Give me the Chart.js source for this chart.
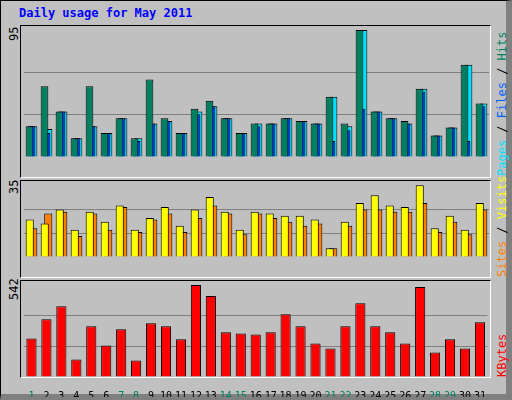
<!DOCTYPE html>
<html><head><meta charset="utf-8">
<script src="https://cdn.jsdelivr.net/npm/chart.js@4"></script>
<style>
body{margin:0;width:512px;height:400px;background:#c0c0c0;overflow:hidden;font-family:"DejaVu Sans Mono",monospace}
#frame{position:absolute;left:0;top:0;width:505px;height:393px;border:1px solid #000;border-right:6px solid #808080;border-bottom:6px solid #808080;box-sizing:content-box}
.panel{position:absolute;left:20px;width:469px;border-top:1px solid #000;border-left:1px solid #000;border-right:1px solid #fff;border-bottom:1px solid #fff}
.rot{position:absolute;transform:rotate(-90deg);transform-origin:left top;white-space:nowrap;font-size:12px}
#title{position:absolute;left:19px;top:6px;color:#0000ff;font-weight:bold;font-size:12px}
</style></head><body>
<div id="frame"></div>
<div id="title">Daily usage for May 2011</div>
<div class="panel" style="top:25px;height:151px"></div>
<div class="panel" style="top:180px;height:96px"></div>
<div class="panel" style="top:280px;height:96px"></div>
<div class="rot" style="left:7px;top:41px">95</div>
<div class="rot" style="left:7px;top:194px">35</div>
<div class="rot" style="left:7px;top:300px">542</div>
<div class="rot" style="left:495px;top:176px"><span style="color:#00e0ff">Pages</span> / <span style="color:#0060ff">Files</span> / <span style="color:#008060">Hits</span></div>
<div class="rot" style="left:495px;top:277px"><span style="color:#ff8000">Sites</span> / <span style="color:#ffff00">Visits</span></div>
<div class="rot" style="left:495px;top:377px"><span style="color:#ff0000">KBytes</span></div>
<div style="position:absolute;left:21px;top:26px;width:470px;height:151px"><canvas id="c1"></canvas></div>
<div style="position:absolute;left:21px;top:181px;width:470px;height:96px"><canvas id="c2"></canvas></div>
<div style="position:absolute;left:21px;top:281px;width:470px;height:116px"><canvas id="c3"></canvas></div>
<script>
const days = Array.from({length:31},(_,i)=>String(i+1));
const weekend = [1,7,8,14,15,21,22,28,29];
const hits  = [23,53,34,14,53,18,29,14,58,29,18,36,42,29,18,25,25,29,27,25,45,25,95,34,29,27,51,16,22,69,40];
const files = [23,18,34,14,23,18,29,12,25,27,18,32,38,29,18,23,25,29,27,25,12,20,36,34,29,25,49,16,22,12,38];
const pages = [23,21,34,14,23,18,29,14,25,27,18,34,38,29,18,25,25,29,27,25,45,23,95,34,29,25,51,16,22,69,40];
const visits = [18.2,16.3,23.1,13.3,22,17.1,25,13.3,19,24.3,15.2,23.1,29.2,22,13.3,22,21.2,20.1,20.1,18.2,4.2,17.1,26.2,30,25,24.3,34.9,14,20.1,13.3,26.2];
const sites  = [14,21.2,22,10.2,21.2,13.3,24.3,12.1,18.2,21.2,12.1,19,25,21.2,11,21.2,19,17.1,15.2,16.3,4.2,15.2,23.1,23.1,22,22,26.2,12.1,17.1,11,23.1];
const kbytes = [227,340,417,103,299,186,281,97,316,299,222,542,477,263,257,251,263,370,299,198,168,299,435,299,263,198,530,144,222,168,322];

Chart.defaults.devicePixelRatio = 1;
Chart.defaults.animation = false;
Chart.defaults.font.family = '"DejaVu Sans Mono", monospace';

function panel(id, datasets, max, cat, bar, showX){
  new Chart(document.getElementById(id), {
    type:'bar',
    data:{labels:days, datasets:datasets.map(d=>({
      data:d.data, backgroundColor:d.color, borderColor:'#000', borderWidth:1,
      borderSkipped:'bottom', categoryPercentage:cat, barPercentage:bar
    }))},
    options:{
      responsive:true, maintainAspectRatio:false,
      layout:{padding:{left:3,right:2,top:4,bottom:0}},
      plugins:{legend:{display:false},tooltip:{enabled:false}},
      scales:{
        x:{display:showX, grid:{display:false}, border:{display:false},
           afterFit:s=>{s.height=20;},
           ticks:{maxRotation:0,autoSkip:false,padding:5,font:{size:10},
             color:c=>weekend.includes(c.index+1)?'#008060':'#000'}},
        y:{min:0,max:max,afterBuildTicks:s=>{s.ticks=[0,max/3,2*max/3,max].map(v=>({value:v}));},
           ticks:{display:false}, border:{display:false},
           grid:{color:c=>(c.index===1||c.index===2)?'#808080':'rgba(0,0,0,0)',lineWidth:1,drawTicks:false}}
      }
    }
  });
}
panel('c1',[{data:hits,color:'#008060'},{data:files,color:'#0040ff'},{data:pages,color:'#00e0ff'}],95,0.4,3.85,false);
panel('c2',[{data:visits,color:'#ffff00'},{data:sites,color:'#ff8000'}],35,0.47,2.3,false);
panel('c3',[{data:kbytes,color:'#ff0000'}],542,0.68,1,true);
</script></body></html>
